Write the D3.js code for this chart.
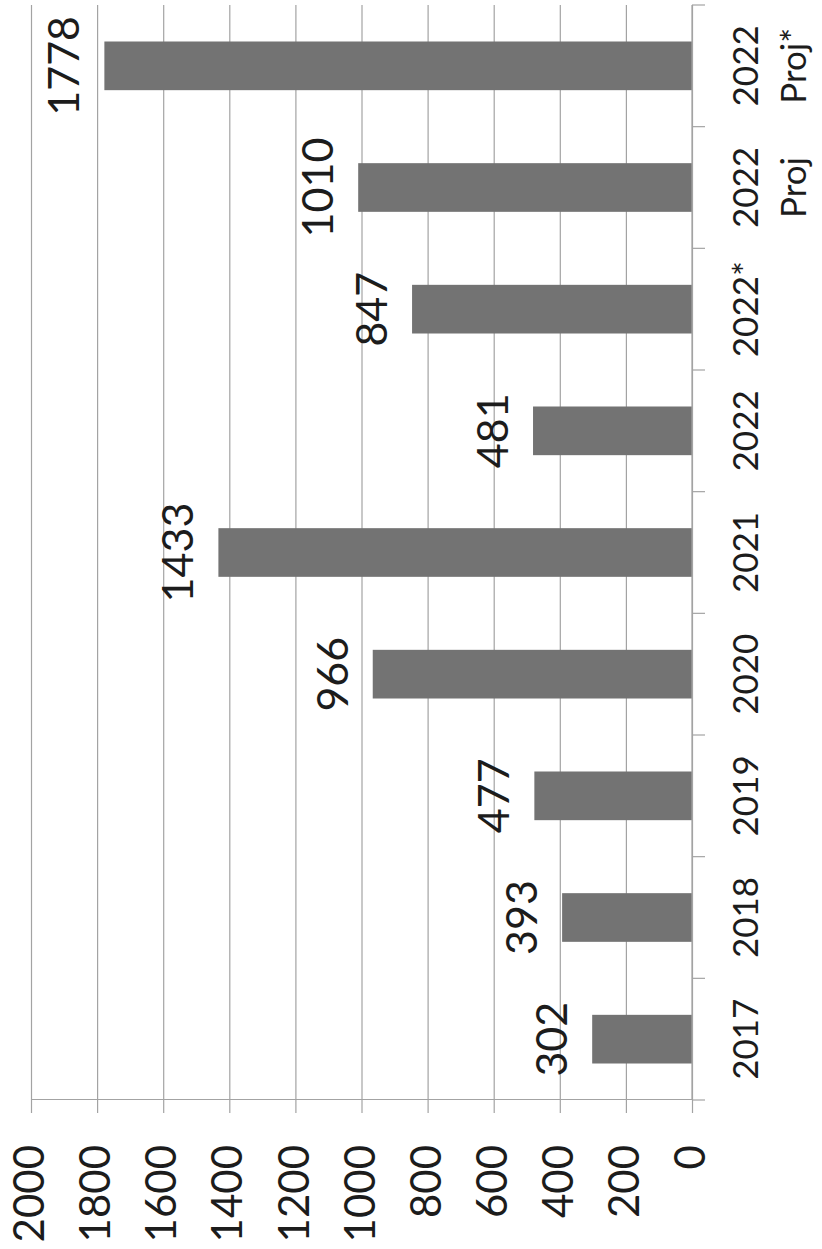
<!DOCTYPE html>
<html lang="en">
<head>
    <meta charset="UTF-8">
    <title>Bar Chart</title>
    <script src="https://cdn.jsdelivr.net/npm/d3@7/dist/d3.min.js"></script>

    <style>

        body{
            margin: 0;
            background: #ffffff;
        }

        text{
            font-family: Lato, "Noto Sans", sans-serif;
            fill: #1c1c1c;
        }

    </style>

</head>
<body>

<div id="container"></div>
<script>

    // chart values
    const categories = ["2017", "2018", "2019", "2020", "2021", "2022", "2022*", "2022\nProj", "2022\nProj*"];
    const values = [302, 393, 477, 966, 1433, 481, 847, 1010, 1778];
    const yTicks = [0, 200, 400, 600, 800, 1000, 1200, 1400, 1600, 1800, 2000];

    let W = 822;
    let H = 1249;

    let svg = d3.select("#container")
        .append('svg')
        .attr("width", W)
        .attr("height", H)
        .style('background-color','#ffffff');

    // the whole chart is drawn as a column chart and then turned on its side
    let g = svg.append("g")
        .attr("transform", "translate(0," + H + ") rotate(-90)");

    let plotLeft = 149;
    let plotRight = 1244;
    let plotBottom = 692;
    let plotTop = 31;

    let x = d3.scaleBand()
        .domain(categories)
        .range([plotLeft, plotRight])
        .paddingInner(0.6)
        .paddingOuter(0.3);

    let y = d3.scaleLinear()
        .domain([0, 2000])
        .range([plotBottom, plotTop]);

/*-----------------------------------------------------------------*/
    // gridlines
    g.append("g")
        .attr("transform", "translate(" + plotLeft + ",0)")
        .call(d3.axisLeft(y).tickValues(yTicks).tickSize(-(plotRight - plotLeft)).tickFormat(""))
        .call(s => s.select(".domain").remove())
        .selectAll("line")
        .attr("stroke", "#a3a3a3")
        .attr("stroke-width", 1.2);

    // value axis with outside ticks
    let yAxis = g.append("g")
        .attr("transform", "translate(" + plotLeft + ",0)")
        .call(d3.axisLeft(y).tickValues(yTicks).tickFormat(d3.format("d"))
            .tickSize(13).tickSizeOuter(0).tickPadding(32));
    yAxis.select(".domain").attr("stroke", "#a3a3a3").attr("stroke-width", 1.2);
    yAxis.selectAll("line").attr("stroke", "#a3a3a3").attr("stroke-width", 1.2);
    yAxis.selectAll("text")
        .style("font-size", "42px")
        .attr("dy", "0.3em");

/*-----------------------------------------------------------------*/
    // bars
    g.selectAll(".bar")
        .data(values)
        .enter()
        .append("rect")
        .attr("class", "bar")
        .attr("x", (d, i) => x(categories[i]))
        .attr("width", x.bandwidth())
        .attr("y", d => y(d))
        .attr("height", d => y(0) - y(d))
        .attr("fill", "#737373");

    // value labels
    g.selectAll(".val")
        .data(values)
        .enter()
        .append("text")
        .attr("class", "val")
        .attr("x", (d, i) => x(categories[i]) + x.bandwidth() / 2)
        .attr("y", d => y(d) - 25)
        .attr("text-anchor", "middle")
        .style("font-size", "43px")
        .text(d => d);

/*-----------------------------------------------------------------*/
    // category axis, ticks sit between the categories
    let gap = (x.step() - x.bandwidth()) / 2;
    let bounds = categories.map(c => x(c) - gap).concat([x(categories[categories.length - 1]) + x.bandwidth() + gap]);

    g.append("line")
        .attr("x1", plotLeft)
        .attr("x2", plotRight)
        .attr("y1", y(0))
        .attr("y2", y(0))
        .attr("stroke", "#a3a3a3")
        .attr("stroke-width", 1.2);

    g.selectAll(".ctick")
        .data(bounds)
        .enter()
        .append("line")
        .attr("class", "ctick")
        .attr("x1", d => d)
        .attr("x2", d => d)
        .attr("y1", y(0))
        .attr("y2", y(0) + 13)
        .attr("stroke", "#a3a3a3")
        .attr("stroke-width", 1.2);

    let cat = g.selectAll(".cat")
        .data(categories)
        .enter()
        .append("text")
        .attr("class", "cat")
        .attr("text-anchor", "middle")
        .style("font-size", "35px");

    cat.selectAll("tspan")
        .data(d => d.split("\n").map(t => ({t: t, c: d})))
        .enter()
        .append("tspan")
        .attr("x", d => x(d.c) + x.bandwidth() / 2)
        .attr("y", (d, i) => 758 + i * 48)
        .text(d => d.t);

</script>
</body>
</html>
